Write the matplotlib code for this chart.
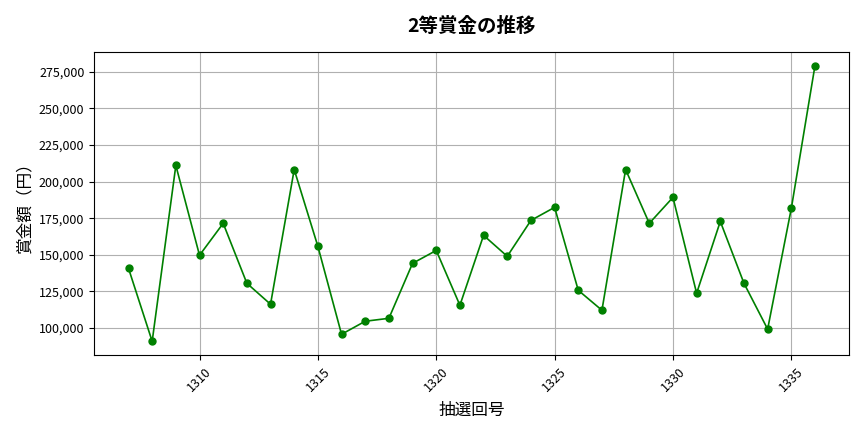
import matplotlib.pyplot as plt
import matplotlib.ticker as mticker

plt.rcParams['font.family'] = ['Noto Sans CJK JP', 'DejaVu Sans']

draws = list(range(1307, 1337))
prizes = [
    140800, 91000, 211000, 149700, 171500, 130600, 116300, 208200, 155800, 95800,
    104700, 106700, 144200, 153000, 115600, 163300, 149000, 173500, 182400, 125800,
    112200, 208200, 171500, 189200, 123800, 172800, 130600, 99300, 181700, 279100,
]

fig, ax = plt.subplots(figsize=(8.64, 4.32), dpi=100)
ax.plot(draws, prizes, color='green', marker='o', markersize=5, linewidth=1.2)

ax.set_title('2等賞金の推移', fontsize=14, fontweight='bold', pad=14)
ax.set_xlabel('抽選回号', fontsize=12, labelpad=6)
ax.set_ylabel('賞金額（円）', fontsize=12)
ax.yaxis.set_major_formatter(mticker.FuncFormatter(lambda v, p: f'{int(v):,}'))
ax.tick_params(axis='x', labelrotation=45)
ax.tick_params(labelsize=9)
ax.grid(True, color='#b0b0b0', linewidth=0.8)

plt.subplots_adjust(left=0.109, right=0.983, top=0.88, bottom=0.178)
plt.savefig('out.png')
